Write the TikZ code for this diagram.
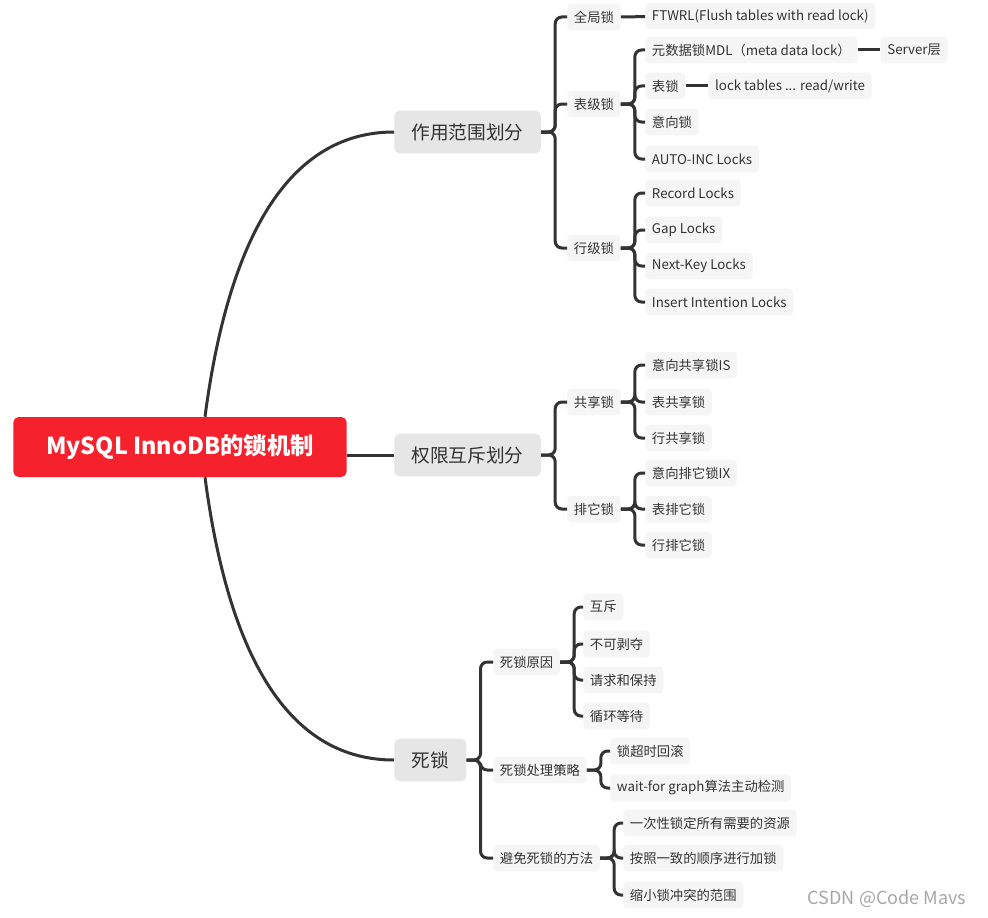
\documentclass[tikz,border=0pt]{standalone}
\usepackage{fontspec}
\setmainfont{Noto Sans CJK SC}
\usetikzlibrary{positioning}
\definecolor{rootred}{RGB}{245,34,45}
\definecolor{topicgrey}{RGB}{230,230,230}
\definecolor{leafgrey}{RGB}{245,245,245}
\definecolor{linegrey}{RGB}{51,51,51}

\begin{document}
\begin{tikzpicture}[
    x=0.75pt, y=-0.75pt,
    rootbox/.style={rectangle, fill=rootred, text=white, rounded corners=4pt,
        minimum width=250pt, minimum height=45pt, font=\bfseries\fontsize{17.5}{20}\selectfont},
    topicbox/.style={rectangle, fill=topicgrey, text=linegrey, rounded corners=4pt, anchor=west,
        minimum height=32pt, inner xsep=13pt, font=\fontsize{14}{17}\selectfont},
    leafbox/.style={rectangle, fill=leafgrey, text=linegrey, rounded corners=3pt, anchor=west,
        minimum height=20pt, inner xsep=5pt, font=\fontsize{10}{12}\selectfont},
    link/.style={draw=linegrey, line width=2.25pt, rounded corners=5pt}
]
\useasboundingbox (0,0) rectangle (988,917);
% root and the three topics
\node[rootbox] (root) at (180,447) {MySQL InnoDB的锁机制};
\node[topicbox] (scope) at (394,132) {作用范围划分};
\node[topicbox] (perm) at (394,455) {权限互斥划分};
\node[topicbox] (dead) at (394,760) {死锁};

% scope
\node[leafbox] (glob) at (567,17) {全局锁};
\node[leafbox] (tbl) at (567,104) {表级锁};
\node[leafbox] (row) at (567,248) {行级锁};
\node[leafbox] (ftwrl) at (645,16) {FTWRL(Flush tables with read lock)};
\node[leafbox] (mdl) at (645,50) {元数据锁MDL（meta data lock）};
\node[leafbox, right=17pt of mdl] (server) {Server层};
\node[leafbox] (tlock) at (645,86) {表锁};
\node[leafbox, right=17pt of tlock] (tlockrw) {lock tables ... read/write};
\node[leafbox] (intent) at (645,122) {意向锁};
\node[leafbox] (autoinc) at (645,159) {AUTO-INC Locks};
\node[leafbox] (rec) at (645,193) {Record Locks};
\node[leafbox] (gap) at (645,230) {Gap Locks};
\node[leafbox] (nextkey) at (645,266) {Next-Key Locks};
\node[leafbox] (insint) at (645,302) {Insert Intention Locks};

% perm
\node[leafbox] (shared) at (567,402) {共享锁};
\node[leafbox] (excl) at (567,509) {排它锁};
\node[leafbox] (is) at (645,365) {意向共享锁IS};
\node[leafbox] (tshared) at (645,402) {表共享锁};
\node[leafbox] (rshared) at (645,438) {行共享锁};
\node[leafbox] (ix) at (645,473) {意向排它锁IX};
\node[leafbox] (texcl) at (645,509) {表排它锁};
\node[leafbox] (rexcl) at (645,545) {行排它锁};

% dead
\node[leafbox] (cause) at (493,662) {死锁原因};
\node[leafbox] (handle) at (493,770) {死锁处理策略};
\node[leafbox] (avoid) at (493,858) {避免死锁的方法};
\node[leafbox] (mutex) at (583,607) {互斥};
\node[leafbox] (nopre) at (583,644) {不可剥夺};
\node[leafbox] (hold) at (583,680) {请求和保持};
\node[leafbox] (circ) at (583,716) {循环等待};
\node[leafbox] (timeout) at (610,751) {锁超时回滚};
\node[leafbox] (waitfor) at (610,788) {wait-for graph算法主动检测};
\node[leafbox] (once) at (623,823) {一次性锁定所有需要的资源};
\node[leafbox] (order) at (623,858) {按照一致的顺序进行加锁};
\node[leafbox] (shrink) at (623,895) {缩小锁冲突的范围};

\node[text=gray!70, font=\fontsize{13.5}{16}\selectfont] (wm) at (887,899) {CSDN @Code Mavs};

% connectors
\draw[link] ([xshift=18.75pt]root.north) .. controls +(25,-190) and +(-100,0) .. (scope.west);
\draw[link] (root.east |- perm.west) -- (perm.west);
\draw[link] ([xshift=18.75pt]root.south) .. controls +(25,190) and +(-100,0) .. (dead.west);

\foreach \c in {glob,tbl,row} \draw[link] (scope.east) -- ++(14,0) |- (\c.west);
\foreach \c in {mdl,tlock,intent,autoinc} \draw[link] (tbl.east) -- ++(14,0) |- (\c.west);
\foreach \c in {rec,gap,nextkey,insint} \draw[link] (row.east) -- ++(14,0) |- (\c.west);
\draw[link] (glob) -- (ftwrl);
\draw[link] (mdl) -- (server);
\draw[link] (tlock) -- (tlockrw);

\foreach \c in {shared,excl} \draw[link] (perm.east) -- ++(14,0) |- (\c.west);
\foreach \c in {is,tshared,rshared} \draw[link] (shared.east) -- ++(14,0) |- (\c.west);
\foreach \c in {ix,texcl,rexcl} \draw[link] (excl.east) -- ++(14,0) |- (\c.west);

\foreach \c in {cause,handle,avoid} \draw[link] (dead.east) -- ++(14,0) |- (\c.west);
\foreach \c in {mutex,nopre,hold,circ} \draw[link] (cause.east) -- ++(14,0) |- (\c.west);
\foreach \c in {timeout,waitfor} \draw[link] (handle.east) -- ++(14,0) |- (\c.west);
\foreach \c in {once,order,shrink} \draw[link] (avoid.east) -- ++(14,0) |- (\c.west);
\end{tikzpicture}
\end{document}
